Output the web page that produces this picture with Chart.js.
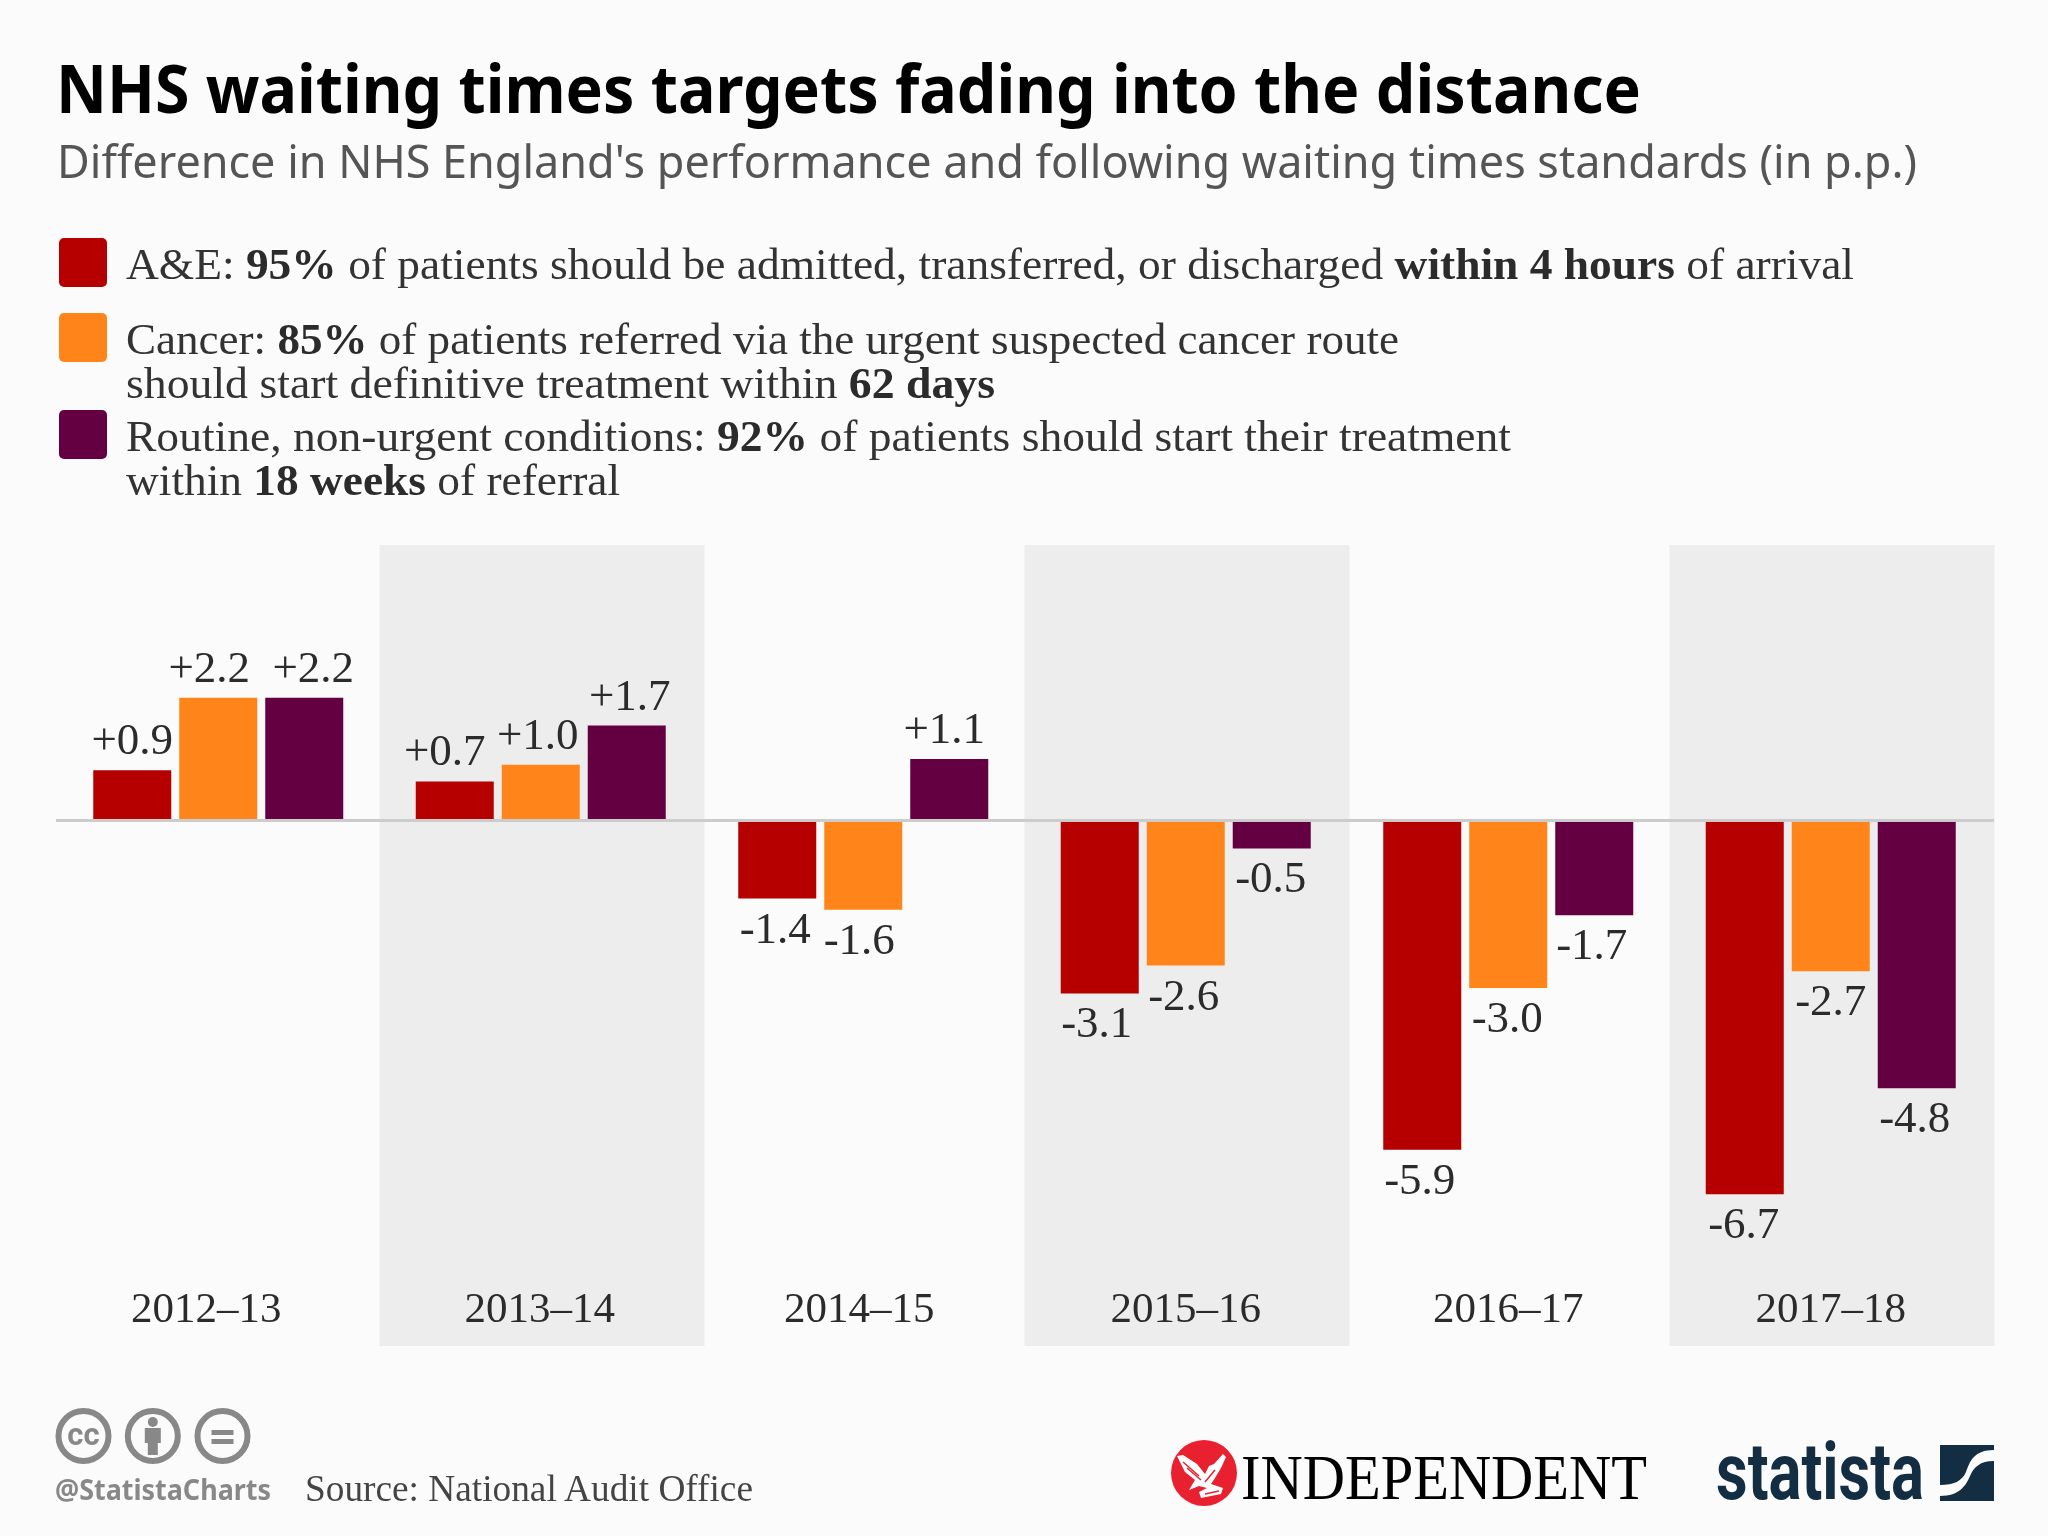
<!DOCTYPE html>
<html><head><meta charset="utf-8">
<script src="https://cdn.jsdelivr.net/npm/chart.js@4"></script>
<style>
html,body{margin:0;padding:0;background:#fbfbfb;width:2048px;height:1536px;overflow:hidden}
#wrap{position:relative;width:2048px;height:1536px}
canvas{position:absolute;left:0;top:0}
.t{position:absolute;white-space:nowrap;transform-origin:0 0;font-family:"Liberation Serif",serif;color:#333}
.t b{color:#2b2b2b}
.sw{position:absolute;left:59px;width:48px;height:49px;border-radius:5px}
</style></head><body><div id="wrap">
<canvas id="c" width="2048" height="1536"></canvas>
<div class="t" data-w="1585" style="left:56px;top:42px;font:700 66px 'Noto Sans',sans-serif;color:#000">NHS waiting times targets fading into the distance</div>
<div class="t" data-w="1860" style="left:57px;top:130px;font:400 45px 'Noto Sans',sans-serif;color:#555">Difference in NHS England's performance and following waiting times standards (in p.p.)</div>
<div class="sw" style="top:238px;background:#b60000"></div>
<div class="sw" style="top:313px;background:#ff851b"></div>
<div class="sw" style="top:410px;background:#640041"></div>
<div class="t" data-w="1728" style="left:126px;top:238px;font-size:45px">A&amp;E: <b>95%</b> of patients should be admitted, transferred, or discharged <b>within 4 hours</b> of arrival</div>
<div class="t" data-w="1273" style="left:126px;top:313px;font-size:45px">Cancer: <b>85%</b> of patients referred via the urgent suspected cancer route</div>
<div class="t" data-w="869" style="left:126px;top:357px;font-size:45px">should start definitive treatment within <b>62 days</b></div>
<div class="t" data-w="1385" style="left:126px;top:410px;font-size:45px">Routine, non-urgent conditions: <b>92%</b> of patients should start their treatment</div>
<div class="t" data-w="494" style="left:126px;top:454px;font-size:45px">within <b>18 weeks</b> of referral</div>
<svg style="position:absolute;left:54px;top:1405px" width="210" height="62" fill="none" stroke="#888" stroke-width="6">
<circle cx="29.5" cy="31" r="25"/><circle cx="98.8" cy="31" r="25"/><circle cx="168.5" cy="31" r="25"/>
<text x="29.5" y="40" text-anchor="middle" font-family="Roboto" font-weight="700" font-size="31" fill="#888" stroke="none">cc</text>
<circle cx="98.8" cy="17" r="5" fill="#888" stroke="none"/><rect x="90.8" y="23" width="16" height="15" fill="#888" stroke="none"/><rect x="93.8" y="36" width="10" height="14" fill="#888" stroke="none"/>
<rect x="157.5" y="25" width="22" height="5" fill="#888" stroke="none"/><rect x="157.5" y="34" width="22" height="5" fill="#888" stroke="none"/>
</svg>
<div class="t" data-w="216" style="left:55px;top:1470px;font:700 28px 'Noto Sans',sans-serif;color:#888">@StatistaCharts</div>
<div class="t" data-w="448" style="left:305px;top:1466px;font-size:38px;color:#444">Source: National Audit Office</div>
<svg style="position:absolute;left:1171px;top:1440px" width="67" height="67">
<ellipse cx="33" cy="33" rx="33" ry="33" fill="#e8202f"/>
<path d="M6 16 L12 15 L26 24 L34 34 L38 26 L43 24 L52 14 L55 17 L50 28 L44 38 L40 44 L52 48 L50 54 L30 58 L28 52 L36 48 L28 46 L18 50 L24 40 L14 32 Z" fill="#fff"/>
<path d="M12 22 L28 36 M16 28 L30 40 M34 42 L44 30 M34 54 L48 51" stroke="#e8202f" stroke-width="1.5" fill="none"/>
</svg>
<div class="t" data-w="406" style="left:1241px;top:1441px;font-size:64px;color:#000">INDEPENDENT</div>
<div class="t" data-w="208" style="left:1716px;top:1425px;font:700 80px Roboto,sans-serif;color:#132e42">statista</div>
<svg style="position:absolute;left:1940px;top:1445px" width="54" height="56"><path d="M0 0H54V5C34 5 30 16 26 27C22 36 14 40 0 40Z M54 16V56H0V51C20 51 26 40 30 31C34 22 40 16 54 16Z" fill="#132e42"/></svg>
</div>
<script>
const categories = ["2012–13","2013–14","2014–15","2015–16","2016–17","2017–18"];
const aeValues = [0.9,0.7,-1.4,-3.1,-5.9,-6.7];
const cancerValues = [2.2,1.0,-1.6,-2.6,-3.0,-2.7];
const routineValues = [2.2,1.7,1.1,-0.5,-1.7,-4.8];
const seriesNames = ["A&E","Cancer","Routine, non-urgent conditions"];
const seriesColors = ["#b60000","#ff851b","#640041"];
// horizontal nudges so neighbouring value labels do not collide
const labelNudges = [[0,-9,9],[-10,-3,3],[-2,-4,-5],[-3,-2,-1],[-2.5,-1,-2.5],[-1,0,-2]];
// horizontal nudges of the year labels under each group
const tickNudges = [-12,-1,-4,0,0,0];

document.querySelectorAll("[data-w]").forEach(el=>{
  el.style.transform="scaleX("+(+el.dataset.w/el.getBoundingClientRect().width)+")";
});

const backdrop = {
  id:"backdrop",
  beforeDraw(ch){
    const {ctx,chartArea:a,scales:{x}} = ch;
    const w = x.width/categories.length;
    ctx.save();ctx.fillStyle="#ededed";
    categories.forEach((c,i)=>{ if(i%2){ const cx=x.getPixelForValue(i); ctx.fillRect(cx-w/2,a.top,w+2.5,a.bottom-a.top);} });
    ctx.restore();
    x.getLabelItems().forEach((item,i)=>{ item.options.translation[0]=x.getPixelForValue(i)+tickNudges[i]; });
  }
};
const valueLabels = {
  id:"valueLabels",
  afterDatasetsDraw(ch){
    const {ctx,chartArea:a} = ch;
    const y0 = ch.scales.y.getPixelForValue(0);
    ctx.save();ctx.fillStyle="#cccccc";ctx.fillRect(a.left-1,y0-1.5,a.right-a.left+3,3);
    ctx.font='45px "Liberation Serif",serif';ctx.fillStyle="#2b2b2b";ctx.textAlign="center";ctx.textBaseline="alphabetic";
    ch.data.datasets.forEach((ds,d)=>{
      ch.getDatasetMeta(d).data.forEach((bar,i)=>{
        const v=ds.data[i];
        const txt=(v>0?"+":"")+v.toFixed(1);
        const y=v>0?bar.y-16:bar.y+44;
        ctx.fillText(txt,bar.x+labelNudges[i][d],y);
      });
    });
    ctx.restore();
  }
};
new Chart(document.getElementById("c"),{
  type:"bar",
  data:{labels:categories,datasets:[aeValues,cancerValues,routineValues].map((v,i)=>({
    label:seriesNames[i],data:v,backgroundColor:seriesColors[i],borderWidth:0,
    categoryPercentage:0.8,barPercentage:0.907
  }))},
  options:{
    responsive:false,animation:false,
    layout:{padding:{left:57,right:56,top:545,bottom:190}},
    plugins:{legend:{display:false},title:{display:false},tooltip:{enabled:false}},
    scales:{
      x:{offset:true,grid:{display:false,drawTicks:false},border:{display:false},
        afterFit(s){s.height=0;},
        ticks:{mirror:true,padding:9,maxRotation:0,autoSkip:false,color:"#2b2b2b",font:{family:'"Liberation Serif",serif',size:43}}},
      y:{display:false,min:-9.418,max:4.937}
    }
  },
  plugins:[backdrop,valueLabels]
});
</script></body></html>
